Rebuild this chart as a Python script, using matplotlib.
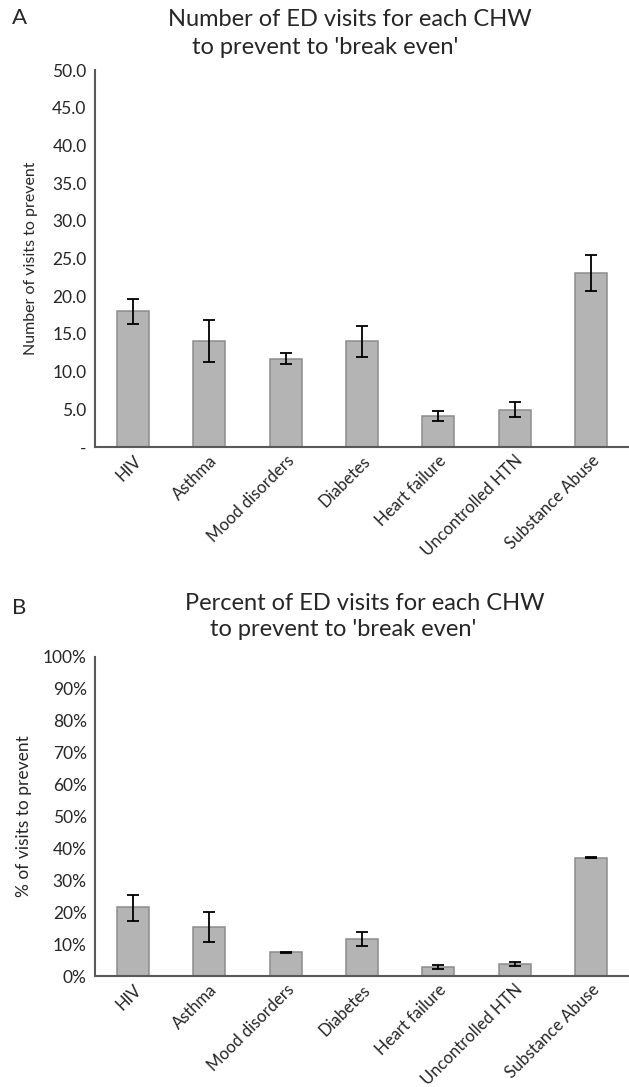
import matplotlib
matplotlib.use('Agg')
import matplotlib.pyplot as plt
import numpy as np

plt.rcParams['font.family'] = ['Lato', 'DejaVu Sans']

categories = ['HIV', 'Asthma', 'Mood disorders', 'Diabetes', 'Heart failure',
              'Uncontrolled HTN', 'Substance Abuse']

# panel A: number of ED visits to prevent
visits = [18.0, 14.0, 11.7, 14.0, 4.1, 4.9, 23.1]
visits_lo = [16.3, 11.3, 11.0, 12.0, 3.5, 4.0, 20.7]
visits_hi = [19.6, 16.8, 12.4, 16.0, 4.8, 5.9, 25.5]

# panel B: percent of ED visits to prevent
percent = [21.7, 15.5, 7.4, 11.5, 2.7, 3.8, 37.1]
percent_lo = [17.4, 10.7, 7.2, 9.4, 2.1, 3.1, 36.95]
percent_hi = [25.5, 20.0, 7.6, 13.8, 3.3, 4.4, 37.25]

a_ticks = [0, 5, 10, 15, 20, 25, 30, 35, 40, 45, 50]
a_ticklabels = ['-'] + ['%.1f' % t for t in a_ticks[1:]]
b_ticks = list(range(0, 101, 10))
b_ticklabels = ['%d%%' % t for t in b_ticks]

bar_color = '#b4b4b4'
edge_color = '#8c8c8c'
axis_color = '#595959'
text_color = '#262626'

fig = plt.figure(figsize=(6.29, 10.87), dpi=100)


def draw_panel(ax, values, lo, hi, ticks, ticklabels, ylabel, ylabel_size, ypad):
    x = np.arange(len(categories))
    vals = np.array(values)
    err = [vals - np.array(lo), np.array(hi) - vals]
    ax.bar(x, vals, width=0.42, color=bar_color, edgecolor=edge_color, linewidth=1.1, zorder=2)
    ax.errorbar(x, vals, yerr=err, fmt='none', ecolor='black', elinewidth=1.3,
                capsize=4.3, capthick=1.3, zorder=3)
    ax.set_xlim(-0.5, len(categories) - 0.5)
    ax.set_ylim(ticks[0], ticks[-1])
    ax.set_yticks(ticks)
    ax.set_yticklabels(ticklabels, fontsize=12.5, color=text_color)
    ax.set_xticks(x)
    ax.set_xticklabels(categories, rotation=45, ha='right', rotation_mode='anchor',
                       fontsize=12, color=text_color)
    ax.tick_params(axis='y', length=0, pad=6)
    ax.tick_params(axis='x', length=0, pad=4)
    ax.set_ylabel(ylabel, fontsize=ylabel_size, color=text_color, labelpad=ypad)
    for side in ['top', 'right']:
        ax.spines[side].set_visible(False)
    ax.spines['left'].set_color(axis_color)
    ax.spines['bottom'].set_color(axis_color)
    ax.spines['left'].set_linewidth(1.5)
    ax.spines['bottom'].set_linewidth(1.5)


ax1 = fig.add_axes([0.151, 0.5888, 0.849, 0.3468])
draw_panel(ax1, visits, visits_lo, visits_hi, a_ticks, a_ticklabels,
           'Number of visits to prevent', 11.5, 10)

ax2 = fig.add_axes([0.151, 0.1021, 0.849, 0.2935])
draw_panel(ax2, percent, percent_lo, percent_hi, b_ticks, b_ticklabels,
           '% of visits to prevent', 12.5, 8)

fig.text(0.019, 1 - 18 / 1087, 'A', fontsize=16, va='center', color=text_color)
fig.text(0.556, 1 - 20 / 1087, 'Number of ED visits for each CHW', fontsize=17,
         ha='center', va='center', color=text_color)
fig.text(0.517, 1 - 47 / 1087, "to prevent to 'break even'", fontsize=17,
         ha='center', va='center', color=text_color)

fig.text(0.019, 1 - 608 / 1087, 'B', fontsize=16, va='center', color=text_color)
fig.text(0.58, 1 - 603 / 1087, 'Percent of ED visits for each CHW', fontsize=17,
         ha='center', va='center', color=text_color)
fig.text(0.545, 1 - 630 / 1087, "to prevent to 'break even'", fontsize=17,
         ha='center', va='center', color=text_color)

fig.savefig('out.png', dpi=100)
